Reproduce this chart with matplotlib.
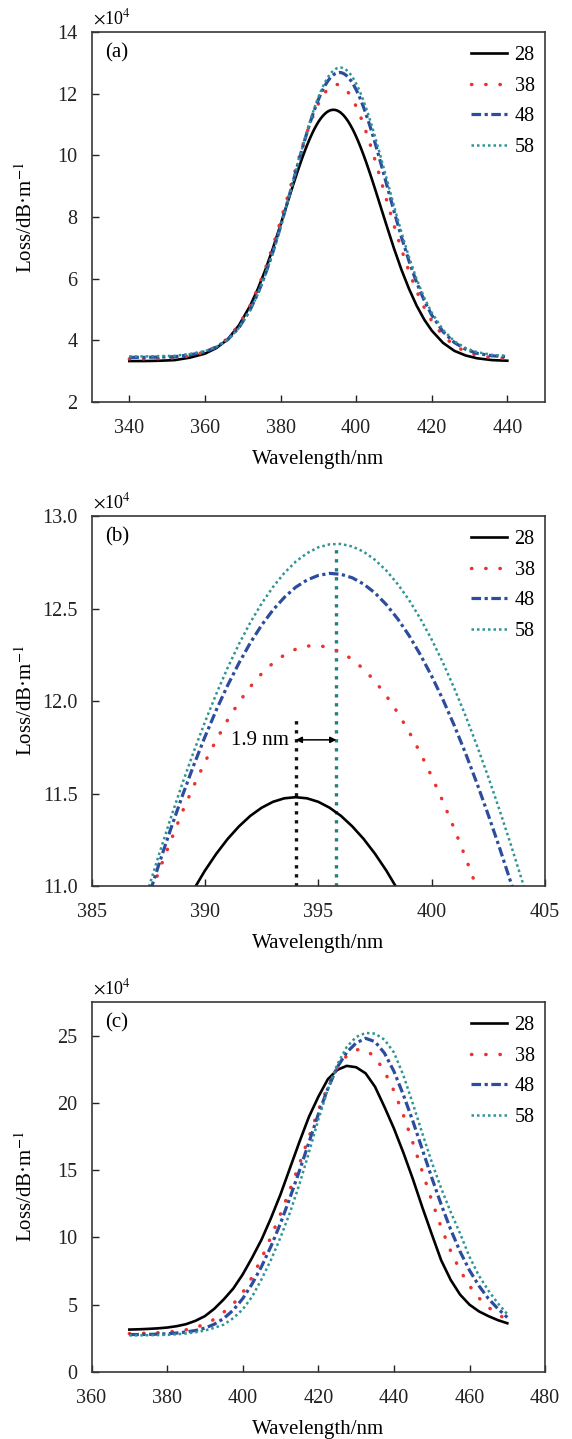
import matplotlib
matplotlib.use('Agg')
import matplotlib.pyplot as plt

plt.rcParams['font.family'] = ['Liberation Serif', 'DejaVu Serif']
plt.rcParams['mathtext.fontset'] = 'stix'

# ---------------- data ----------------
SERIES = ['28', '38', '48', '58']

# panels (a) and (b): same curves, (b) is a zoom of the peak
WL_AB = [340, 344, 348, 352, 356, 360, 363, 366, 369, 372, 374, 376, 378, 380, 382, 383,
         384, 384.5, 385, 385.5, 386, 386.5, 387, 387.5, 388, 388.5, 389, 389.5, 390, 390.5,
         391, 391.5, 392, 392.5, 393, 393.5, 394, 394.5, 395, 395.5, 396, 396.5, 397, 397.5,
         398, 398.5, 399, 399.5, 400, 400.5, 401, 401.5, 402, 402.5, 403, 403.5, 404, 404.5,
         405, 405.5, 406,
         408, 410, 412, 414, 416, 418, 420, 423, 426, 429, 432, 436, 440]
LOSS_AB_28 = [3.33, 3.33, 3.34, 3.36, 3.44, 3.57, 3.75, 4.03, 4.49, 5.13, 5.67, 6.29, 6.99, 7.75, 8.53, 8.914,
              9.293, 9.477, 9.657, 9.833, 10.003, 10.166, 10.323, 10.472, 10.613, 10.745, 10.868, 10.980, 11.083, 11.174,
              11.254, 11.322, 11.379, 11.423, 11.455, 11.474, 11.480, 11.474, 11.455, 11.423, 11.379, 11.322, 11.254, 11.174,
              11.083, 10.980, 10.868, 10.745, 10.613, 10.472, 10.323, 10.166, 10.003, 9.833, 9.657, 9.477, 9.293, 9.105,
              8.914, 8.721, 8.527,
              7.75, 6.99, 6.29, 5.67, 5.13, 4.68, 4.32, 3.92, 3.66, 3.51, 3.42, 3.36, 3.34]
LOSS_AB_38 = [3.40, 3.40, 3.41, 3.43, 3.50, 3.62, 3.79, 4.06, 4.50, 5.14, 5.69, 6.33, 7.07, 7.87, 8.71, 9.139,
              9.560, 9.768, 9.970, 10.172, 10.370, 10.558, 10.740, 10.917, 11.090, 11.246, 11.400, 11.539, 11.670, 11.789,
              11.897, 11.993, 12.077, 12.148, 12.205, 12.249, 12.280, 12.297, 12.300, 12.288, 12.263, 12.225, 12.172, 12.107,
              12.028, 11.937, 11.834, 11.719, 11.592, 11.455, 11.308, 11.151, 10.986, 10.813, 10.632, 10.444, 10.251, 10.053,
              9.850, 9.644, 9.435,
              8.58, 7.74, 6.95, 6.23, 5.60, 5.07, 4.63, 4.15, 3.83, 3.63, 3.52, 3.44, 3.42]
LOSS_AB_48 = [3.45, 3.45, 3.46, 3.47, 3.53, 3.63, 3.78, 4.02, 4.41, 5.00, 5.52, 6.15, 6.87, 7.69, 8.56, 9.005,
              9.453, 9.676, 9.896, 10.113, 10.327, 10.536, 10.740, 10.937, 11.128, 11.311, 11.486, 11.651, 11.806, 11.951,
              12.084, 12.205, 12.314, 12.410, 12.492, 12.560, 12.615, 12.654, 12.679, 12.690, 12.685, 12.666, 12.632, 12.584,
              12.521, 12.444, 12.354, 12.250, 12.134, 12.006, 11.866, 11.715, 11.553, 11.382, 11.203, 11.015, 10.820, 10.618,
              10.411, 10.199, 9.983,
              9.095, 8.20, 7.35, 6.57, 5.88, 5.30, 4.82, 4.28, 3.93, 3.71, 3.58, 3.50, 3.47]
LOSS_AB_58 = [3.48, 3.48, 3.49, 3.50, 3.56, 3.65, 3.79, 4.02, 4.40, 4.99, 5.50, 6.13, 6.85, 7.67, 8.55, 9.004,
              9.460, 9.687, 9.912, 10.135, 10.354, 10.569, 10.779, 10.983, 11.180, 11.370, 11.552, 11.724, 11.886, 12.038,
              12.179, 12.308, 12.424, 12.527, 12.616, 12.692, 12.753, 12.799, 12.831, 12.847, 12.849, 12.835, 12.807, 12.763,
              12.705, 12.632, 12.546, 12.445, 12.332, 12.206, 12.067, 11.918, 11.757, 11.587, 11.407, 11.219, 11.023, 10.820,
              10.611, 10.397, 10.179,
              9.28, 8.37, 7.50, 6.70, 5.99, 5.39, 4.90, 4.34, 3.97, 3.75, 3.62, 3.53, 3.50]

# panel (c)
WL_C = [370, 372.5, 375, 377.5, 380, 382.5, 385, 387.5, 390, 392.5, 395, 397.5, 400, 402.5,
        405, 407.5, 410, 412.5, 415, 417.5, 420, 422.5, 425, 427.5, 430, 432.5, 435, 437.5,
        440, 442.5, 445, 447.5, 450, 452.5, 455, 457.5, 460, 462.5, 465, 467.5, 470]
LOSS_C_28 = [3.15, 3.17, 3.20, 3.24, 3.30, 3.40, 3.55, 3.80, 4.15, 4.70, 5.40, 6.20, 7.25, 8.50,
             9.85, 11.45, 13.20, 15.15, 17.10, 18.95, 20.45, 21.75, 22.45, 22.75, 22.65, 22.20, 21.20, 19.70,
             18.10, 16.30, 14.35, 12.25, 10.25, 8.30, 6.85, 5.75, 5.00, 4.50, 4.15, 3.85, 3.62]
LOSS_C_38 = [2.85, 2.86, 2.88, 2.91, 2.96, 3.03, 3.13, 3.30, 3.55, 3.92, 4.45, 5.05, 5.90, 7.05,
             8.45, 10.05, 11.75, 13.55, 15.45, 17.45, 19.45, 21.20, 22.60, 23.50, 23.95, 23.95, 23.40, 22.35,
             20.90, 19.10, 17.05, 14.90, 12.75, 10.75, 9.00, 7.55, 6.40, 5.50, 4.80, 4.28, 3.87]
LOSS_C_48 = [2.78, 2.78, 2.79, 2.81, 2.84, 2.89, 2.97, 3.08, 3.26, 3.55, 3.98, 4.60, 5.45, 6.55,
             7.85, 9.35, 11.05, 12.95, 14.95, 17.05, 19.15, 21.05, 22.65, 23.75, 24.45, 24.80, 24.55, 23.70,
             22.35, 20.60, 18.65, 16.55, 14.45, 12.45, 10.60, 8.95, 7.55, 6.40, 5.45, 4.70, 4.05]
LOSS_C_58 = [2.72, 2.72, 2.73, 2.74, 2.76, 2.80, 2.86, 2.95, 3.08, 3.28, 3.52, 4.00, 4.65, 5.60,
             6.90, 8.35, 10.00, 11.85, 13.95, 16.30, 18.75, 21.00, 22.85, 24.15, 24.90, 25.20, 25.15, 24.70,
             23.75, 22.05, 19.95, 17.75, 15.60, 13.65, 11.90, 10.30, 8.55, 7.15, 6.05, 5.10, 4.30]

XTICKS_A = [340, 360, 380, 400, 420, 440]
YTICKS_A = [2, 4, 6, 8, 10, 12, 14]
XTICKS_B = [385, 390, 395, 400, 405]
YTICKS_B = [11.0, 11.5, 12.0, 12.5, 13.0]
XTICKS_C = [360, 380, 400, 420, 440, 460, 480]
YTICKS_C = [0, 5, 10, 15, 20, 25]

PEAK_WL_28 = 394.0
PEAK_WL_58 = 395.8
PEAK_LOSS_58 = 12.85

# ---------------- style ----------------
STYLES = {
    '28': dict(color='black', lw=1.9, ls='-'),
    '38': dict(color='#EA3330', lw=2.5, ls=(0, (0.1, 4.0)), dash_capstyle='round'),
    '48': dict(color='#2C4C9E', lw=2.3, ls=(0, (3, 1.1, 1, 1.1))),
    '58': dict(color='#2E9494', lw=1.8, ls=(0, (1, 1.2))),
}
FS = 14.5
SPINE_C = '#383838'

fig = plt.figure(figsize=(5.72, 14.39), dpi=100)
L, W, H = 0.160, 0.793, 0.2571
bottoms = [0.7206, 0.3843, 0.0466]
axes = [fig.add_axes([L, b, W, H]) for b in bottoms]

ab = [LOSS_AB_28, LOSS_AB_38, LOSS_AB_48, LOSS_AB_58]
cc = [LOSS_C_28, LOSS_C_38, LOSS_C_48, LOSS_C_58]


def style_axes(ax, xlim, ylim, xt, yt, yfmt, tag):
    ax.set_xlim(*xlim)
    ax.set_ylim(*ylim)
    ax.set_xticks(xt)
    ax.set_yticks(yt)
    ax.set_yticklabels([yfmt.format(v) for v in yt])
    ax.set_xticklabels([str(v) for v in xt])
    ax.tick_params(direction='in', length=5, width=1.0, labelsize=FS,
                   colors='#222222', top=False, right=False)
    ax.tick_params(axis='y', pad=10)
    ax.tick_params(axis='x', pad=12)
    for s in ax.spines.values():
        s.set_linewidth(1.2)
        s.set_color(SPINE_C)
    ax.set_xlabel('Wavelength/nm', fontsize=15)
    ax.xaxis.set_label_coords(0.5, -0.129)
    ax.set_ylabel('Loss/dB·m$^{-1}$', fontsize=15)
    ax.yaxis.set_label_coords(-0.121, 0.5)
    ax.text(0.031, 0.943, tag, transform=ax.transAxes, fontsize=15, va='center', ha='left')
    ax.text(0.003, 1.038, r'$\times$10$^{4}$', transform=ax.transAxes, fontsize=13,
            va='center', ha='left')
    leg = ax.legend(loc='upper right', bbox_to_anchor=(0.977, 0.962), frameon=False,
                    fontsize=FS, borderaxespad=0, borderpad=0, handlelength=1.75,
                    handletextpad=0.4, labelspacing=0.57)
    return leg


for i, name in enumerate(SERIES):
    axes[0].plot(WL_AB, ab[i], label=name, **STYLES[name])
    axes[1].plot(WL_AB, ab[i], label=name, **STYLES[name])
    axes[2].plot(WL_C, cc[i], label=name, **STYLES[name])

# annotation of panel (b)
axb = axes[1]
axb.plot([PEAK_WL_28, PEAK_WL_28], [11.0, 11.895], color='#111111', lw=2.4,
         ls=(0, (1, 1.7)), zorder=1)
axb.plot([PEAK_WL_58, PEAK_WL_58], [11.0, PEAK_LOSS_58], color='#1E8080', lw=2.4,
         ls=(0, (1, 1.7)), zorder=1)
axb.annotate('', xy=(PEAK_WL_28, 11.79), xytext=(PEAK_WL_58, 11.79),
             arrowprops=dict(arrowstyle='<|-|>', color='black', lw=1.1,
                             mutation_scale=9, shrinkA=0, shrinkB=0))
axb.text(PEAK_WL_28 - 0.3, 11.785, '1.9 nm', fontsize=15, ha='right', va='center')

style_axes(axes[0], (330, 450), (2, 14), XTICKS_A, YTICKS_A, '{:d}', '(a)')
style_axes(axes[1], (385, 405), (11, 13), XTICKS_B, YTICKS_B, '{:.1f}', '(b)')
style_axes(axes[2], (360, 480), (0, 27.5), XTICKS_C, YTICKS_C, '{:d}', '(c)')

fig.savefig('out.png', dpi=100)
